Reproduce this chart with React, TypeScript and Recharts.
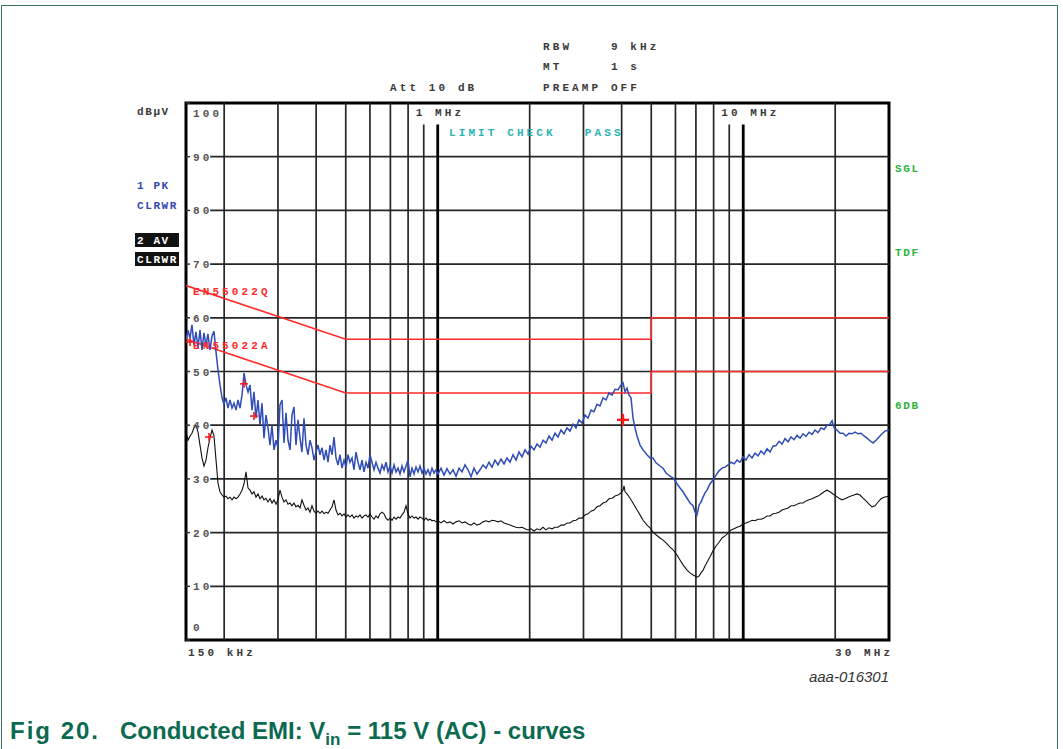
import React from 'react';
import {
  ComposedChart,
  Line,
  Scatter,
  XAxis,
  YAxis,
  ReferenceLine,
  ReferenceArea,
} from 'recharts';

// frequency in MHz, level in dBuV
const pkTrace: [number, number][] = [
  [0.15, 55.9], [0.1523, 57.7], [0.1546, 56.2], [0.1569, 58.7], [0.1593, 54.9], [0.1617, 57.4],
  [0.1642, 54.4], [0.1667, 57.7], [0.1692, 54.0], [0.1718, 57.2], [0.1744, 54.8], [0.177, 57.0],
  [0.1797, 54.0], [0.1825, 56.6], [0.1852, 57.5], [0.1881, 53.6], [0.1909, 50.3], [0.1938, 47.5],
  [0.1968, 45.1], [0.1997, 43.9], [0.2028, 45.1], [0.2058, 43.2], [0.209, 44.7], [0.2122, 43.2],
  [0.2154, 44.1], [0.2187, 42.8], [0.222, 44.7], [0.2254, 43.2], [0.2288, 45.6], [0.2323, 49.7],
  [0.2358, 47.5], [0.2394, 46.2], [0.243, 47.5], [0.2467, 42.8], [0.2504, 46.2], [0.2542, 41.3],
  [0.2581, 44.7], [0.262, 40.0], [0.266, 44.1], [0.27, 37.6], [0.2741, 41.9], [0.2783, 39.5],
  [0.2825, 36.3], [0.2868, 40.0], [0.2912, 35.4], [0.2956, 37.2], [0.3001, 35.8], [0.3046, 43.8],
  [0.3093, 44.7], [0.3139, 36.7], [0.3187, 42.3], [0.3236, 37.2], [0.3285, 35.4], [0.3334, 41.9],
  [0.3385, 43.4], [0.3436, 36.3], [0.3489, 41.0], [0.3542, 37.6], [0.3595, 35.0], [0.365, 41.3],
  [0.3706, 36.3], [0.3762, 34.5], [0.3819, 37.2], [0.3877, 35.8], [0.3936, 33.5], [0.3996, 35.0],
  [0.4057, 36.3], [0.4118, 34.5], [0.4181, 35.8], [0.4245, 33.5], [0.4309, 35.4], [0.4375, 33.1],
  [0.444, 36.3], [0.4509, 34.5], [0.4576, 37.8], [0.4646, 33.9], [0.4717, 32.6], [0.4788, 34.5],
  [0.4861, 32.0], [0.4935, 33.5], [0.501, 32.2], [0.5086, 34.5], [0.5163, 33.1], [0.5242, 33.9],
  [0.5321, 31.7], [0.5402, 35.0], [0.5484, 33.1], [0.5567, 31.7], [0.5652, 33.5], [0.5738, 31.3],
  [0.5825, 33.1], [0.5913, 32.0], [0.6003, 34.5], [0.6094, 33.1], [0.6187, 31.7], [0.6281, 33.1],
  [0.6376, 32.0], [0.6473, 31.1], [0.6571, 32.6], [0.6671, 31.7], [0.6772, 33.1], [0.6876, 31.3],
  [0.698, 32.4], [0.7086, 31.1], [0.7194, 32.6], [0.7303, 31.3], [0.7414, 32.0], [0.7526, 30.9],
  [0.7641, 32.4], [0.7757, 31.3], [0.7874, 32.4], [0.7994, 33.5], [0.8116, 30.4], [0.8239, 32.0],
  [0.8364, 30.9], [0.8491, 32.2], [0.862, 31.3], [0.8751, 32.4], [0.8884, 31.1], [0.9019, 32.0],
  [0.9155, 30.9], [0.9295, 31.7], [0.9436, 30.7], [0.9579, 32.0], [0.9725, 31.1], [0.9872, 31.7],
  [1.0023, 30.9], [1.0252, 32.0], [1.0486, 30.7], [1.0726, 31.9], [1.0971, 30.9], [1.1222, 31.7],
  [1.1478, 30.5], [1.1741, 32.0], [1.2009, 31.3], [1.2284, 32.6], [1.2565, 31.7], [1.2853, 30.4],
  [1.3146, 32.0], [1.3447, 30.9], [1.3754, 31.7], [1.4068, 32.6], [1.4389, 32.0], [1.4718, 33.1],
  [1.5054, 32.2], [1.5399, 33.5], [1.5751, 32.6], [1.6111, 33.7], [1.6481, 32.8], [1.6859, 33.9],
  [1.7244, 33.1], [1.7639, 34.5], [1.8042, 33.5], [1.8455, 35.0], [1.8877, 34.1], [1.931, 35.4],
  [1.9751, 34.6], [2.0203, 36.1], [2.0665, 35.4], [2.1136, 36.5], [2.1621, 35.9], [2.2113, 37.2],
  [2.2619, 36.7], [2.3135, 38.0], [2.3665, 37.2], [2.4205, 38.5], [2.476, 37.8], [2.5325, 39.1],
  [2.5904, 38.4], [2.6499, 39.5], [2.7107, 38.9], [2.7725, 40.2], [2.8358, 39.5], [2.9007, 41.0],
  [2.967, 40.4], [3.0349, 41.9], [3.1043, 41.3], [3.1753, 42.8], [3.2479, 42.5], [3.3222, 43.9],
  [3.3982, 43.6], [3.4759, 45.1], [3.5556, 44.7], [3.6369, 46.0], [3.7195, 45.6], [3.8046, 46.7],
  [3.8917, 46.6], [3.9811, 47.5], [4.0416, 47.9], [4.103, 46.2], [4.1654, 46.9], [4.2289, 45.6],
  [4.2931, 45.1], [4.3579, 41.3], [4.4247, 39.5], [4.4918, 38.0], [4.5943, 36.3], [4.6994, 35.4],
  [4.8428, 34.5], [4.9537, 33.9], [5.0669, 33.9], [5.183, 33.0], [5.3413, 32.4], [5.4634, 32.0],
  [5.5886, 31.1], [5.7594, 30.5], [5.8908, 30.2], [6.0716, 29.1], [6.2102, 28.3], [6.3523, 27.6],
  [6.5477, 26.4], [6.6968, 25.5], [6.8497, 25.0], [6.9549, 23.8], [7.059, 23.3], [7.1671, 25.1],
  [7.2755, 25.7], [7.3861, 26.6], [7.4983, 27.4], [7.6125, 27.9], [7.7867, 29.1], [7.9649, 29.8],
  [8.1471, 30.7], [8.3334, 31.5], [8.5253, 32.0], [8.72, 32.2], [8.9194, 32.6], [9.1234, 33.1],
  [9.332, 32.8], [9.5449, 33.5], [9.762, 33.1], [9.985, 34.1], [10.213, 33.5], [10.447, 34.5],
  [10.686, 33.9], [10.93, 34.8], [11.18, 34.3], [11.436, 35.2], [11.697, 34.6], [11.966, 35.6],
  [12.239, 35.0], [12.519, 36.1], [12.806, 36.2], [13.098, 37.0], [13.398, 36.5], [13.704, 37.5],
  [14.017, 36.9], [14.337, 37.8], [14.665, 37.3], [15.0, 38.1], [15.343, 37.6], [15.694, 38.4],
  [16.053, 37.9], [16.42, 38.7], [16.795, 38.3], [17.179, 39.1], [17.572, 38.6], [17.974, 39.5],
  [18.385, 39.2], [18.804, 40.0], [19.235, 40.2], [19.53, 40.8], [19.827, 39.5], [20.28, 39.1],
  [20.744, 38.5], [21.219, 38.5], [21.702, 38.0], [22.199, 38.5], [22.706, 38.4], [23.225, 38.7],
  [23.757, 38.4], [24.3, 38.5], [24.855, 38.0], [25.423, 37.6], [26.007, 37.1], [26.601, 36.7],
  [27.208, 37.2], [27.831, 37.8], [28.468, 38.4], [29.117, 38.9], [30.0, 39.1],
];

const avTrace: [number, number][] = [
  [0.15, 38.7], [0.1523, 37.2], [0.1546, 38.0], [0.1569, 38.5], [0.1593, 39.5], [0.1617, 40.0],
  [0.1642, 38.7], [0.1667, 36.3], [0.1692, 33.9], [0.1718, 32.4], [0.1744, 33.5], [0.177, 35.8],
  [0.1797, 37.6], [0.1825, 39.1], [0.1852, 38.0], [0.1881, 33.5], [0.1909, 29.2], [0.1938, 27.6],
  [0.1968, 27.0], [0.1997, 26.6], [0.2028, 26.8], [0.2058, 26.3], [0.209, 26.6], [0.2122, 26.1],
  [0.2154, 26.6], [0.2187, 26.3], [0.222, 26.6], [0.2254, 27.2], [0.2288, 27.9], [0.2323, 29.1],
  [0.2358, 31.3], [0.2394, 28.3], [0.243, 27.9], [0.2467, 27.2], [0.2504, 27.6], [0.2542, 26.6],
  [0.2581, 27.2], [0.262, 26.3], [0.266, 26.8], [0.27, 26.1], [0.2741, 26.4], [0.2783, 25.7],
  [0.2825, 26.3], [0.2868, 25.5], [0.2912, 26.1], [0.2956, 25.3], [0.3001, 26.1], [0.3046, 27.9],
  [0.3093, 26.6], [0.3139, 25.7], [0.3187, 26.1], [0.3236, 25.3], [0.3285, 25.5], [0.3334, 25.0],
  [0.3385, 25.5], [0.3436, 24.8], [0.3489, 25.1], [0.3542, 24.6], [0.3595, 26.1], [0.365, 25.1],
  [0.3706, 24.2], [0.3762, 24.6], [0.3819, 23.8], [0.3877, 25.0], [0.3936, 24.0], [0.3996, 23.6],
  [0.4057, 24.0], [0.4118, 23.6], [0.4181, 24.0], [0.4245, 23.5], [0.4309, 23.8], [0.4375, 23.6],
  [0.444, 24.2], [0.4509, 24.8], [0.4576, 26.1], [0.4646, 24.2], [0.4717, 23.3], [0.4788, 23.6],
  [0.4861, 23.1], [0.4935, 23.5], [0.501, 22.9], [0.5086, 23.3], [0.5163, 22.9], [0.5242, 23.3],
  [0.5321, 22.7], [0.5402, 23.1], [0.5484, 22.9], [0.5567, 23.3], [0.5652, 22.7], [0.5738, 23.1],
  [0.5825, 23.3], [0.5913, 22.9], [0.6003, 23.5], [0.6094, 22.9], [0.6187, 22.5], [0.6281, 23.1],
  [0.6376, 22.7], [0.6473, 23.5], [0.6571, 23.8], [0.6671, 23.5], [0.6772, 22.7], [0.6876, 22.3],
  [0.698, 22.7], [0.7086, 22.3], [0.7194, 22.9], [0.7303, 22.5], [0.7414, 22.9], [0.7526, 22.7],
  [0.7641, 23.3], [0.7757, 23.8], [0.7874, 25.0], [0.7994, 23.5], [0.8116, 22.7], [0.8239, 23.1],
  [0.8364, 22.7], [0.8491, 22.9], [0.862, 22.5], [0.8751, 22.9], [0.8884, 22.7], [0.9019, 22.3],
  [0.9155, 22.7], [0.9295, 22.3], [0.9436, 22.5], [0.9579, 22.2], [0.9725, 22.3], [0.9872, 22.0],
  [1.0023, 22.2], [1.0252, 21.8], [1.0486, 22.2], [1.0726, 21.8], [1.0971, 22.0], [1.1222, 21.6],
  [1.1478, 22.0], [1.1741, 22.2], [1.2009, 21.8], [1.2284, 22.0], [1.2565, 21.6], [1.2853, 21.4],
  [1.3146, 21.8], [1.3447, 21.4], [1.3754, 21.6], [1.4068, 22.0], [1.4389, 22.2], [1.4718, 22.0],
  [1.5054, 22.3], [1.5399, 22.2], [1.5751, 22.0], [1.6111, 22.2], [1.6481, 21.8], [1.6859, 21.6],
  [1.7244, 21.4], [1.7639, 21.2], [1.8042, 21.0], [1.8455, 20.9], [1.8877, 21.0], [1.931, 20.7],
  [1.9751, 20.5], [2.0203, 20.7], [2.0665, 20.3], [2.1136, 20.7], [2.1621, 20.5], [2.2113, 21.0],
  [2.2619, 20.5], [2.3135, 20.9], [2.3665, 20.7], [2.4205, 21.0], [2.476, 21.0], [2.5325, 21.4],
  [2.5904, 21.4], [2.6499, 21.8], [2.7107, 21.8], [2.7725, 22.2], [2.8358, 22.3], [2.9007, 22.7],
  [2.967, 22.7], [3.0349, 23.3], [3.1043, 23.5], [3.1753, 24.0], [3.2479, 24.2], [3.3222, 24.8],
  [3.3982, 25.0], [3.4759, 25.5], [3.5556, 25.7], [3.6369, 26.3], [3.7195, 26.4], [3.8046, 26.8],
  [3.8917, 27.0], [3.9811, 27.4], [4.0416, 27.9], [4.0721, 28.7], [4.103, 27.6], [4.1654, 27.2],
  [4.261, 26.4], [4.3579, 25.5], [4.4918, 24.2], [4.5943, 23.3], [4.6994, 22.3], [4.8428, 21.4],
  [4.9537, 20.9], [5.0669, 20.1], [5.183, 19.6], [5.3413, 19.0], [5.4634, 18.6], [5.5886, 18.1],
  [5.7594, 17.3], [5.8908, 16.8], [6.0716, 15.8], [6.2102, 14.9], [6.3523, 14.0], [6.5477, 13.0],
  [6.6968, 12.5], [6.8497, 12.1], [6.9549, 11.9], [7.059, 11.7], [7.1671, 11.9], [7.2755, 12.5],
  [7.3861, 13.0], [7.4983, 13.8], [7.6125, 14.5], [7.7867, 15.5], [7.9649, 16.6], [8.1471, 17.5],
  [8.3334, 18.2], [8.5253, 19.0], [8.72, 19.4], [8.9194, 19.9], [9.1234, 20.5], [9.332, 20.7],
  [9.5449, 21.0], [9.762, 21.2], [9.985, 21.6], [10.213, 21.8], [10.447, 22.0], [10.686, 22.3],
  [10.93, 22.2], [11.18, 22.5], [11.436, 22.5], [11.697, 22.7], [11.966, 23.1], [12.239, 23.1],
  [12.519, 23.5], [12.806, 23.6], [13.098, 23.8], [13.398, 24.2], [13.704, 24.4], [14.017, 24.6],
  [14.337, 25.0], [14.665, 25.0], [15.0, 25.3], [15.343, 25.5], [15.694, 25.5], [16.053, 25.9],
  [16.42, 26.1], [16.795, 26.3], [17.179, 26.6], [17.572, 26.8], [17.974, 27.2], [18.385, 27.6],
  [18.804, 27.9], [19.235, 27.6], [19.67, 27.2], [20.13, 26.8], [20.59, 26.4], [21.06, 26.1],
  [21.54, 26.3], [22.03, 26.6], [22.54, 26.8], [23.05, 27.0], [23.58, 27.2], [24.115, 27.0],
  [24.67, 26.4], [25.23, 25.9], [25.81, 25.3], [26.4, 24.8], [27.007, 25.0], [27.62, 25.7],
  [28.25, 26.3], [28.9, 26.6], [30.0, 26.8],
];

// EN 55022 class B limits
const qpLimit: [number, number][] = [[0.15, 66], [0.5, 56], [5, 56], [5, 60], [30, 60]];
const avLimit: [number, number][] = [[0.15, 56], [0.5, 46], [5, 46], [5, 50], [30, 50]];

// final measurement markers
const peakMarks: [number, number][] = [[0.1546, 55.5], [0.1784, 37.8], [0.2323, 47.7], [0.2504, 41.7]];
const worstMark: [number, number][] = [[4.04, 41.0]];

const dbTicks = [0, 10, 20, 30, 40, 50, 60, 70, 80, 90, 100];
const levelGrid = [10, 20, 30, 40, 50, 60, 70, 80, 90];
const freqGrid = [0.2, 0.3, 0.4, 0.5, 0.6, 0.7, 0.8, 2, 3, 4, 5, 6, 7, 8, 20];
const shortGrid = [0.9, 9];
const decadeGrid = [
  { f: 1, label: '1 MHz' },
  { f: 10, label: '10 MHz' },
];

const toPoints = (rows: [number, number][]) => rows.map(([f, db]) => ({ f, db }));

const MONO = '"Liberation Mono", "DejaVu Sans Mono", monospace';
const GRID = '#262626';

const Mono = ({ x, y, fill = '#3a3a3a', spacing = 3.1, children }: any) => (
  <text
    x={x}
    y={y}
    fontFamily={MONO}
    fontSize={11}
    fontWeight="bold"
    letterSpacing={spacing}
    fill={fill}
    style={{ whiteSpace: 'pre' }}
  >
    {children}
  </text>
);

const DbTick = ({ x, y, payload }: any) => {
  const v = payload.value;
  const dy = v === 100 ? 14 : v === 0 ? -9 : 4;
  return (
    <text x={x} y={y + dy} fontFamily={MONO} fontSize={11} fontWeight="bold" letterSpacing={3.1} fill="#555">
      {v}
    </text>
  );
};

const cross = (arm: number, width: number) => (props: any) => {
  const { cx, cy } = props;
  return (
    <g stroke="#ff1a1a" strokeWidth={width}>
      <line x1={cx - arm} y1={cy} x2={cx + arm} y2={cy} />
      <line x1={cx} y1={cy - arm} x2={cx} y2={cy + arm} />
    </g>
  );
};

const App = () => {
  return (
    <div style={{ position: 'absolute', left: 0, top: 0, width: 1063, height: 749, overflow: 'hidden', background: '#fff' }}>
      <div style={{ position: 'absolute', left: 1, top: 5, width: 1055, height: 800, border: '1px solid #3d7566' }} />
      <div style={{ position: 'absolute', left: 0, top: 0 }}>
        <ComposedChart width={1063} height={749} margin={{ top: 103, right: 174, bottom: 109, left: 186 }}>
          <XAxis dataKey="f" type="number" scale="log" domain={[0.15, 30]} allowDataOverflow hide />
          <YAxis
            type="number"
            domain={[0, 100]}
            ticks={dbTicks}
            interval={0}
            mirror
            axisLine={false}
            tickSize={4}
            tickMargin={3}
            tickLine={{ stroke: '#333', strokeWidth: 1.5 }}
            tick={(p: any) => <DbTick {...p} />}
          />

          {levelGrid.map((v) => (
            <ReferenceLine key={`h${v}`} segment={[{ x: 0.18, y: v }, { x: 30, y: v }]} stroke={GRID} strokeWidth={1.7} />
          ))}
          {freqGrid.map((f) => (
            <ReferenceLine key={`v${f}`} x={f} stroke={GRID} strokeWidth={1.7} />
          ))}
          {shortGrid.map((f) => (
            <ReferenceLine key={`s${f}`} segment={[{ x: f, y: 0 }, { x: f, y: 96 }]} stroke={GRID} strokeWidth={1.7} />
          ))}
          {decadeGrid.map((d) => (
            <ReferenceLine
              key={`d${d.f}`}
              segment={[{ x: d.f, y: 0 }, { x: d.f, y: 96 }]}
              stroke="#000"
              strokeWidth={2.8}
              label={(p: any) => (
                <Mono x={p.viewBox.x - 22} y={p.viewBox.y - 8}>
                  {d.label}
                </Mono>
              )}
            />
          ))}

          <Line data={toPoints(qpLimit)} dataKey="db" type="linear" stroke="#ff2b2b" strokeWidth={1.6} dot={false} isAnimationActive={false} />
          <Line data={toPoints(avLimit)} dataKey="db" type="linear" stroke="#ff2b2b" strokeWidth={1.6} dot={false} isAnimationActive={false} />
          <Line data={toPoints(avTrace)} dataKey="db" type="linear" stroke="#111" strokeWidth={1.1} dot={false} isAnimationActive={false} />
          <Line data={toPoints(pkTrace)} dataKey="db" type="linear" stroke="#2f4cb8" strokeWidth={1.5} dot={false} isAnimationActive={false} />
          <Scatter data={toPoints(peakMarks)} dataKey="db" shape={cross(4, 1.6)} isAnimationActive={false} />
          <Scatter data={toPoints(worstMark)} dataKey="db" shape={cross(6, 2.4)} isAnimationActive={false} />

          <ReferenceArea x1={0.15} x2={30} y1={0} y2={100} fill="none" stroke="#000" strokeWidth={3} />
        </ComposedChart>
      </div>

      <svg width={1063} height={749} style={{ position: 'absolute', left: 0, top: 0, pointerEvents: 'none' }}>
        <Mono x={543} y={50}>RBW    9 kHz</Mono>
        <Mono x={543} y={70}>MT     1 s</Mono>
        <Mono x={390} y={91}>Att 10 dB</Mono>
        <Mono x={543} y={91}>PREAMP OFF</Mono>
        <Mono x={137} y={115} spacing={1.6}>dBµV</Mono>
        <Mono x={137} y={189} fill="#3548b0" spacing={1.6}>1 PK</Mono>
        <Mono x={137} y={209} fill="#3548b0" spacing={1.6}>CLRWR</Mono>
        <rect x={135} y={233} width={44} height={14} fill="#111" />
        <rect x={135} y={252} width={44} height={14} fill="#111" />
        <Mono x={137} y={244} fill="#fff" spacing={1.6}>2 AV</Mono>
        <Mono x={137} y={263} fill="#fff" spacing={1.6}>CLRWR</Mono>
        <Mono x={895} y={172} fill="#2db33d" spacing={1.6}>SGL</Mono>
        <Mono x={895} y={256} fill="#2db33d" spacing={1.6}>TDF</Mono>
        <Mono x={895} y={409} fill="#2db33d" spacing={1.6}>6DB</Mono>
        <Mono x={449} y={136} fill="#2ab3b3">LIMIT CHECK   PASS</Mono>
        <Mono x={193} y={295} fill="#ff2b2b">EN55022Q</Mono>
        <Mono x={193} y={349} fill="#ff2b2b">EN55022A</Mono>
        <Mono x={188} y={656}>150 kHz</Mono>
        <Mono x={835} y={656}>30 MHz</Mono>
        <text x={889} y={682} textAnchor="end" fontFamily='"Liberation Sans", Arial, sans-serif' fontStyle="italic" fontSize={15} fill="#333">
          aaa-016301
        </text>
      </svg>

      <div
        style={{
          position: 'absolute',
          left: 10,
          top: 717,
          fontFamily: '"Liberation Sans", Arial, sans-serif',
          fontWeight: 'bold',
          fontSize: 24,
          color: '#0b6a4f',
          whiteSpace: 'pre',
          lineHeight: '28px',
        }}
      >
        <span style={{ letterSpacing: 2 }}>Fig 20.</span>
        <span style={{ marginLeft: 20 }}>Conducted EMI: V</span>
        <span style={{ fontSize: 17, position: 'relative', top: 6 }}>in</span> = 115 V (AC) - curves
      </div>
    </div>
  );
};

export default App;
